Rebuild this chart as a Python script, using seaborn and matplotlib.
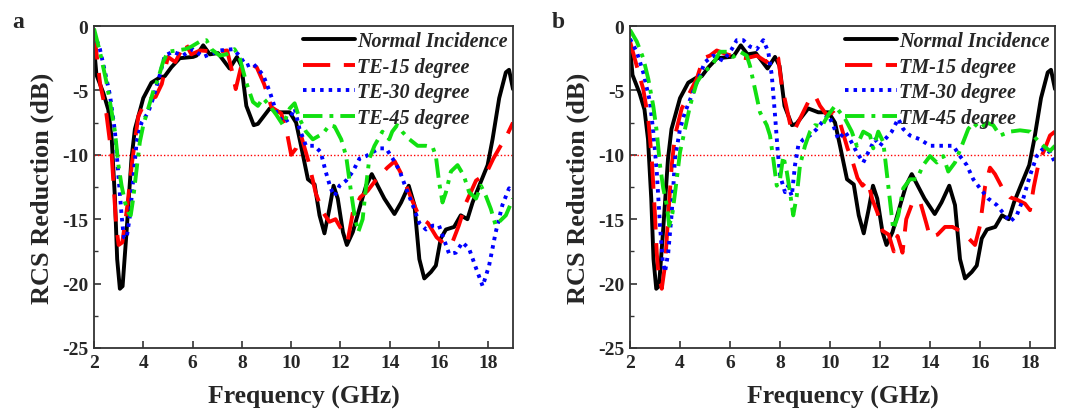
import matplotlib
matplotlib.use("Agg")
import matplotlib.pyplot as plt
import seaborn as sns
import pandas as pd

# ---------------- data ----------------
normal = [(2.0,-1.6),(2.1,-3.8),(2.38,-5.2),(2.58,-6.5),(2.72,-8.8),(2.85,-13.4),(2.94,-18.1),
          (3.05,-20.4),(3.16,-20.2),(3.32,-16.0),(3.52,-10.3),(3.66,-8.0),(4.0,-5.6),(4.33,-4.4),
          (4.67,-4.0),(4.87,-3.9),(5.14,-3.2),(5.48,-2.5),(6.02,-2.4),(6.16,-2.3),(6.43,-1.5),
          (6.7,-2.2),(7.03,-2.1),(7.5,-3.3),(7.8,-2.4),(7.98,-3.1),(8.18,-6.2),(8.48,-7.7),
          (8.65,-7.6),(9.13,-6.4),(9.53,-6.7),(9.94,-6.7),(10.2,-7.5),(10.4,-9.3),(10.68,-11.9),
          (10.95,-12.3),(11.15,-14.7),(11.35,-16.1),(11.55,-14.2),(11.72,-12.4),(11.89,-13.4),
          (12.1,-16.0),(12.26,-17.0),(12.5,-16.0),(12.84,-13.7),(13.04,-12.4),(13.27,-11.5),
          (13.51,-12.4),(13.78,-13.4),(14.19,-14.6),(14.46,-13.7),(14.77,-12.4),(15.0,-13.9),
          (15.2,-18.1),(15.4,-19.6),(15.67,-19.1),(15.87,-18.6),(16.07,-16.5),(16.28,-15.8),
          (16.61,-15.6),(16.88,-14.7),(17.15,-15.0),(17.36,-13.7),(17.63,-12.4),(17.97,-10.8),
          (18.17,-8.8),(18.44,-5.6),(18.71,-3.6),(18.84,-3.4),(19.0,-4.9)]

te15 = [(2.0,-0.5),(2.25,-4.5),(2.5,-6.8),(2.72,-10.1),(2.9,-15.5),(3.0,-17.0),(3.15,-16.8),
        (3.35,-14.0),(3.55,-10.5),(3.8,-7.0),(4.1,-5.8),(4.5,-5.5),(4.75,-4.5),(5.0,-2.4),
        (5.3,-2.8),(5.7,-1.3),(5.95,-2.2),(6.3,-1.9),(7.0,-2.0),(7.4,-1.9),(7.6,-3.5),(7.75,-4.9),
        (7.95,-3.3),(8.3,-2.9),(8.6,-3.2),(8.9,-4.5),(9.2,-6.3),(9.6,-6.8),(9.85,-8.5),(10.0,-10.0),
        (10.2,-9.5),(10.4,-8.5),(10.7,-10.5),(11.0,-13.0),(11.3,-14.5),(11.55,-15.2),(11.8,-15.0),
        (12.1,-16.0),(12.3,-16.6),(12.5,-14.5),(12.8,-13.3),(13.1,-12.8),(13.5,-11.8),(13.9,-11.0),
        (14.2,-10.5),(14.5,-11.6),(14.9,-13.5),(15.2,-14.8),(15.55,-15.3),(15.9,-16.4),(16.2,-16.9),
        (16.5,-17.0),(16.8,-15.5),(17.1,-13.7),(17.5,-12.0),(17.9,-11.5),(18.2,-10.3),(18.5,-9.3),
        (18.75,-8.5),(19.0,-7.5)]

te30 = [(2.0,-0.5),(2.24,-1.8),(2.45,-3.6),(2.65,-5.4),(2.85,-8.2),(2.99,-11.6),(3.12,-14.7),
        (3.21,-16.4),(3.32,-16.5),(3.46,-14.7),(3.59,-11.9),(3.73,-9.0),(3.93,-7.5),(4.2,-6.7),
        (4.4,-5.6),(4.67,-3.8),(4.87,-2.3),(5.2,-2.0),(5.6,-2.3),(6.0,-1.8),(6.43,-2.4),(6.7,-2.2),
        (7.1,-1.9),(7.64,-1.8),(7.9,-2.3),(8.18,-3.1),(8.45,-2.9),(8.86,-3.8),(9.13,-5.1),(9.4,-6.7),
        (9.67,-7.5),(9.94,-7.2),(10.14,-6.4),(10.34,-8.0),(10.6,-9.3),(10.95,-9.3),(11.2,-9.8),
        (11.4,-11.3),(11.6,-12.6),(11.76,-13.2),(11.96,-12.4),(12.23,-12.0),(12.5,-11.3),
        (12.77,-10.3),(13.04,-10.1),(13.3,-9.8),(13.58,-9.5),(13.85,-9.5),(14.12,-10.3),
        (14.39,-11.2),(14.66,-12.6),(14.93,-13.9),(15.2,-15.3),(15.47,-15.8),(15.74,-15.5),
        (16.0,-15.5),(16.28,-17.0),(16.41,-17.7),(16.68,-17.6),(16.95,-16.8),(17.22,-17.3),
        (17.5,-18.8),(17.77,-20.2),(18.03,-18.6),(18.3,-16.0),(18.57,-13.9),(18.84,-12.6),
        (19.0,-12.9)]

te45 = [(2.0,-0.2),(2.24,-2.0),(2.51,-4.4),(2.72,-6.7),(2.85,-8.2),(2.99,-10.8),(3.12,-12.4),
        (3.26,-13.7),(3.4,-14.5),(3.49,-14.7),(3.59,-13.4),(3.73,-11.1),(3.86,-9.0),(4.0,-7.7),
        (4.2,-6.4),(4.4,-5.1),(4.6,-4.1),(4.8,-2.8),(5.0,-2.0),(5.35,-1.9),(5.7,-1.8),(5.95,-1.6),
        (6.3,-1.2),(6.56,-1.1),(6.76,-1.8),(7.1,-2.3),(7.37,-2.2),(7.7,-1.8),(7.9,-2.4),(8.18,-4.4),
        (8.45,-5.9),(8.65,-6.2),(8.86,-5.6),(9.13,-6.2),(9.4,-6.9),(9.67,-7.7),(9.94,-6.4),
        (10.14,-6.0),(10.34,-7.2),(10.6,-8.2),(10.88,-8.8),(11.15,-8.5),(11.35,-8.2),(11.55,-7.7),
        (11.76,-7.8),(12.03,-8.8),(12.23,-10.1),(12.43,-12.9),(12.57,-14.7),(12.72,-16.0),
        (12.9,-15.0),(13.04,-12.4),(13.17,-10.3),(13.38,-9.3),(13.7,-8.2),(13.98,-8.8),(14.1,-8.2),
        (14.3,-7.7),(14.5,-8.2),(14.8,-8.8),(15.13,-9.3),(15.47,-9.3),(15.74,-9.4),(15.87,-10.1),
        (16.0,-12.1),(16.14,-13.7),(16.28,-12.9),(16.48,-11.3),(16.75,-10.8),(17.0,-11.6),
        (17.22,-12.9),(17.5,-13.4),(17.7,-12.4),(17.9,-13.2),(18.1,-14.2),(18.3,-15.5),
        (18.44,-15.2),(18.71,-14.7),(19.0,-13.4)]

tm15 = [(2.0,-1.2),(2.27,-3.1),(2.53,-4.9),(2.73,-7.2),(2.87,-10.3),(3.0,-14.7),(3.07,-17.6),
        (3.13,-19.1),(3.27,-20.4),(3.4,-18.6),(3.53,-14.7),(3.67,-10.8),(3.8,-8.5),(4.07,-6.4),
        (4.33,-5.4),(4.67,-4.1),(4.93,-2.5),(5.2,-2.3),(5.47,-1.9),(5.87,-2.2),(6.27,-2.4),
        (6.67,-2.5),(7.07,-2.3),(7.47,-2.8),(7.73,-2.2),(7.93,-2.5),(8.07,-4.6),(8.27,-6.4),
        (8.47,-8.2),(8.6,-8.0),(8.8,-7.2),(9.13,-5.9),(9.4,-5.4),(9.6,-6.2),(9.87,-6.9),
        (10.13,-6.7),(10.4,-7.5),(10.7,-9.5),(10.9,-10.5),(11.1,-11.8),(11.3,-12.4),(11.5,-12.0),
        (11.7,-13.5),(11.9,-14.5),(12.1,-15.9),(12.35,-16.2),(12.55,-17.5),(12.7,-16.3),
        (12.9,-17.6),(13.05,-15.0),(13.3,-13.7),(13.6,-13.6),(13.85,-15.3),(14.0,-16.4),
        (14.3,-16.2),(14.6,-15.6),(14.9,-15.6),(15.2,-15.9),(15.5,-16.4),(15.8,-17.0),(16.0,-15.5),
        (16.2,-12.5),(16.4,-11.0),(16.6,-11.5),(16.9,-12.6),(17.2,-13.3),(17.5,-13.5),(17.8,-13.8),
        (18.0,-14.3),(18.15,-12.5),(18.35,-10.6),(18.6,-9.5),(18.8,-8.5),(19.0,-8.2)]

tm30 = [(2.0,-1.0),(2.27,-2.0),(2.53,-3.6),(2.8,-5.9),(2.93,-8.2),(3.07,-11.3),(3.2,-15.5),
        (3.31,-18.3),(3.4,-19.1),(3.53,-17.6),(3.67,-14.5),(3.8,-10.3),(4.0,-8.0),(4.2,-6.7),
        (4.47,-5.4),(4.73,-4.1),(5.0,-2.8),(5.33,-2.3),(5.73,-2.7),(6.07,-1.8),(6.27,-1.1),
        (6.53,-1.1),(6.8,-1.6),(7.07,-1.8),(7.33,-1.1),(7.53,-2.0),(7.67,-3.8),(7.8,-6.9),
        (7.9,-9.5),(8.0,-11.6),(8.2,-12.9),(8.33,-12.4),(8.47,-13.2),(8.6,-10.8),(8.73,-9.3),
        (8.93,-8.8),(9.2,-8.5),(9.47,-8.0),(9.67,-7.5),(9.93,-6.9),(10.13,-7.7),(10.33,-8.8),
        (10.6,-8.2),(10.8,-8.8),(11.07,-9.8),(11.33,-10.6),(11.53,-9.8),(11.8,-8.8),(12.0,-9.3),
        (12.2,-8.8),(12.47,-8.2),(12.73,-7.2),(12.93,-8.0),(13.2,-8.5),(13.6,-8.8),(14.0,-9.3),
        (14.4,-9.3),(14.93,-9.3),(15.2,-10.1),(15.47,-10.8),(15.73,-11.9),(16.0,-12.6),
        (16.33,-13.4),(16.67,-13.9),(17.0,-14.7),(17.2,-15.2),(17.47,-14.7),(17.73,-13.4),
        (18.0,-11.6),(18.27,-10.1),(18.53,-9.5),(18.8,-9.8),(19.0,-10.6)]

tm45 = [(2.0,-0.3),(2.27,-1.2),(2.53,-2.5),(2.73,-4.1),(2.93,-6.2),(3.07,-8.2),(3.2,-10.8),
        (3.33,-12.6),(3.47,-13.9),(3.57,-15.5),(3.7,-14.5),(3.87,-11.9),(4.0,-9.8),(4.2,-8.0),
        (4.4,-6.2),(4.67,-4.4),(4.93,-3.6),(5.27,-3.1),(5.6,-2.0),(5.87,-2.0),(6.13,-2.4),
        (6.4,-2.0),(6.67,-2.3),(6.8,-3.1),(7.0,-4.9),(7.2,-6.7),(7.47,-7.7),(7.6,-8.5),(7.73,-10.3),
        (7.87,-12.4),(8.0,-11.9),(8.13,-10.1),(8.27,-11.3),(8.4,-12.9),(8.53,-14.7),(8.67,-13.2),
        (8.8,-10.8),(9.0,-9.3),(9.2,-8.2),(9.4,-7.7),(9.67,-7.8),(9.93,-6.9),(10.2,-6.2),
        (10.4,-6.7),(10.6,-7.2),(10.87,-8.2),(11.07,-9.3),(11.33,-8.2),(11.6,-8.5),(11.73,-9.5),
        (11.93,-8.2),(12.13,-9.0),(12.33,-12.4),(12.53,-15.8),(12.73,-14.7),(12.93,-12.6),
        (13.2,-11.9),(13.47,-11.9),(13.73,-10.8),(14.0,-10.1),(14.27,-10.6),(14.53,-10.1),
        (14.73,-11.3),(15.0,-10.6),(15.27,-9.3),(15.53,-8.0),(15.73,-7.5),(16.0,-8.0),
        (16.27,-7.5),(16.53,-7.7),(16.8,-8.5),(17.2,-8.2),(17.6,-8.1),(18.0,-8.2),(18.27,-8.8),
        (18.53,-9.3),(18.8,-9.7),(19.0,-9.3)]

labels_a = ["Normal Incidence", "TE-15 degree", "TE-30 degree", "TE-45 degree"]
labels_b = ["Normal Incidence", "TM-15 degree", "TM-30 degree", "TM-45 degree"]
threshold = -10
x_ticks = [2, 4, 6, 8, 10, 12, 14, 16, 18]
y_ticks = [0, -5, -10, -15, -20, -25]
panel_letters = ["a", "b"]
x_label = "Frequency (GHz)"
y_label = "RCS Reduction (dB)"

# ---------------- styling ----------------
sns.set_style("ticks")
plt.rcParams["font.family"] = ["Liberation Serif", "DejaVu Serif"]
plt.rcParams["font.weight"] = "bold"
plt.rcParams["axes.unicode_minus"] = False

colors = ["#000000", "#ff0000", "#0000ff", "#11e011"]
styles = ["-", (0, (7, 3.5)), (0, (0.9, 1.3)), (0, (5, 1.8, 1, 1.8))]

fig = plt.figure(figsize=(10.74, 4.14), dpi=100)
W, H = 1074, 414
ax_a = fig.add_axes([94 / W, 65 / H, 419 / W, 322 / H])
ax_b = fig.add_axes([630 / W, 65 / H, 425 / W, 322 / H])


def to_df(pairs):
    return pd.DataFrame(pairs, columns=["freq", "rcs"])


for ax, series, labels, letter in [
    (ax_a, [normal, te15, te30, te45], labels_a, panel_letters[0]),
    (ax_b, [normal, tm15, tm30, tm45], labels_b, panel_letters[1]),
]:
    ax.axhline(threshold, color="#ff0000", lw=1.0, ls=(0, (1, 1.5)), zorder=1)
    for s, lab, c, st in zip(series, labels, colors, styles):
        df = to_df(s)
        sns.lineplot(data=df, x="freq", y="rcs", ax=ax, color=c, lw=2.8,
                     linestyle=st, label=lab, sort=False, estimator=None,
                     solid_capstyle="round", solid_joinstyle="round",
                     dash_joinstyle="round", dash_capstyle="butt")
    ax.set_xlim(2, 19)
    ax.set_ylim(-25, 0)
    ax.set_xticks(x_ticks)
    ax.set_yticks(y_ticks)
    ax.set_yticks([-2.5, -7.5, -12.5, -17.5, -22.5], minor=True)
    ax.tick_params(axis="both", which="major", direction="in", length=5, width=1.2,
                   labelsize=14, pad=4, color="#333333")
    ax.tick_params(axis="y", which="minor", direction="in", length=3, width=1.0,
                   color="#333333")
    for lbl in ax.get_xticklabels() + ax.get_yticklabels():
        lbl.set_fontweight("bold")
    for sp in ax.spines.values():
        sp.set_linewidth(1.3)
        sp.set_color("#333333")
    ax.set_xlabel(x_label, fontsize=18.5, fontweight="bold", labelpad=10)
    ax.set_ylabel(y_label, fontsize=19, fontweight="bold", labelpad=6)
    leg = ax.legend(loc="upper right", frameon=False, handlelength=2.6,
                    handletextpad=0.1, labelspacing=0.28, borderaxespad=0.1,
                    borderpad=0.15,
                    prop={"family": "Liberation Serif", "weight": "bold",
                          "style": "italic", "size": 14.5})
    for line in leg.get_lines():
        line.set_linewidth(2.8)

fig.text(12 / W, 1 - 28 / H, panel_letters[0], fontsize=17, fontweight="bold")
fig.text(552 / W, 1 - 28 / H, panel_letters[1], fontsize=17, fontweight="bold")

fig.savefig("out.png", dpi=100)
